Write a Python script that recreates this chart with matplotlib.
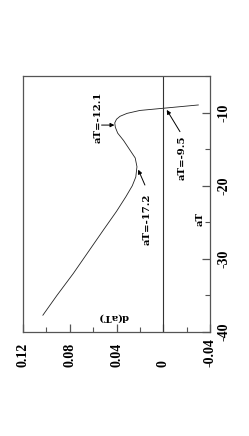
import matplotlib
matplotlib.use('Agg')
import matplotlib.pyplot as plt
from matplotlib.ticker import MultipleLocator
from matplotlib.font_manager import FontProperties

# curve d(aT) (the chart is drawn turned 90 degrees)
a_T = [-37.7, -35.0, -32.0, -29.0, -26.0, -23.5, -21.5, -20.0, -18.8, -17.4,
       -16.2, -15.0, -13.8, -12.8, -12.0, -11.4, -10.9, -10.5, -10.1, -9.7,
       -9.4, -8.95]
d_aT = [0.103, 0.091, 0.077, 0.064, 0.051, 0.040, 0.032, 0.0265, 0.0235, 0.0225,
        0.024, 0.029, 0.034, 0.039, 0.041, 0.0415, 0.040, 0.037, 0.031, 0.020,
        0.0, -0.030]

d_ticks = [0.12, 0.08, 0.04, 0.0, -0.04]
d_labels = ['0.12', '0.08', '0.04', '0', '-0.04']
aT_ticks = [-40, -30, -20, -10]
aT_labels = ['-40', '-30', '-20', '-10']

# annotations: text, text position, arrow tail, arrow tip (d, aT)
notes = [
    ('aT=-12.1', (0.0560, -10.6), (0.0528, -11.7), (0.0418, -11.7)),
    ('aT=-17.2', (0.0140, -24.6), (0.0157, -19.9), (0.0214, -17.8)),
    ('aT=-9.5', (-0.0160, -16.2), (-0.0143, -12.6), (-0.0030, -9.63)),
]

fig = plt.figure(figsize=(2.49, 4.36), dpi=100)
ax = fig.add_axes([0.0924, 0.2385, 0.751, 0.587])

ax.plot(d_aT, a_T, color='#222222', lw=0.6)
ax.axvline(0, color='#333333', lw=0.8)

ax.set_xlim(0.12, -0.04)
ax.set_ylim(-40, -5)

for sp in ax.spines.values():
    sp.set_color('#555555')
    sp.set_linewidth(0.9)

ax.set_xticks(d_ticks)
ax.set_xticklabels(d_labels)
ax.xaxis.set_minor_locator(MultipleLocator(0.02))
ax.set_yticks(aT_ticks)
ax.set_yticklabels(aT_labels)
ax.yaxis.set_minor_locator(MultipleLocator(5))
ax.yaxis.tick_right()

ax.tick_params(axis='x', which='both', direction='in', bottom=True, top=False, color='#555555')
ax.tick_params(axis='y', which='both', direction='in', right=True, left=False, color='#555555')
ax.tick_params(which='major', length=5.5, width=0.9)
ax.tick_params(which='minor', length=3.3, width=0.8)
ax.tick_params(axis='x', pad=25)
ax.tick_params(axis='y', pad=5.5)

tick_font = FontProperties(family='Liberation Serif', weight='bold', size=10)
for lbl in ax.get_xticklabels():
    lbl.set_rotation(90)
    lbl.set_rotation_mode('anchor')
    lbl.set_ha('left')
    lbl.set_va('center')
    lbl.set_fontproperties(tick_font)
for lbl in ax.get_yticklabels():
    lbl.set_rotation(90)
    lbl.set_va('center')
    lbl.set_fontproperties(tick_font)

note_font = dict(family='DejaVu Serif', weight='bold', size=7.3)
for txt, pos, tail, tip in notes:
    ax.text(pos[0], pos[1], txt, rotation=90, ha='center', va='center', **note_font)
    ax.annotate('', xy=tip, xytext=tail,
                arrowprops=dict(arrowstyle='-|>', color='black', lw=0.7,
                                mutation_scale=6, shrinkA=0, shrinkB=0))

ax.text(-0.0315, -24.5, 'aT', rotation=90, ha='center', va='center', **note_font)
ax.text(0.043, -37.9, 'd(aT)', rotation=180, ha='center', va='center', **note_font)

fig.savefig('out.png', dpi=100)
